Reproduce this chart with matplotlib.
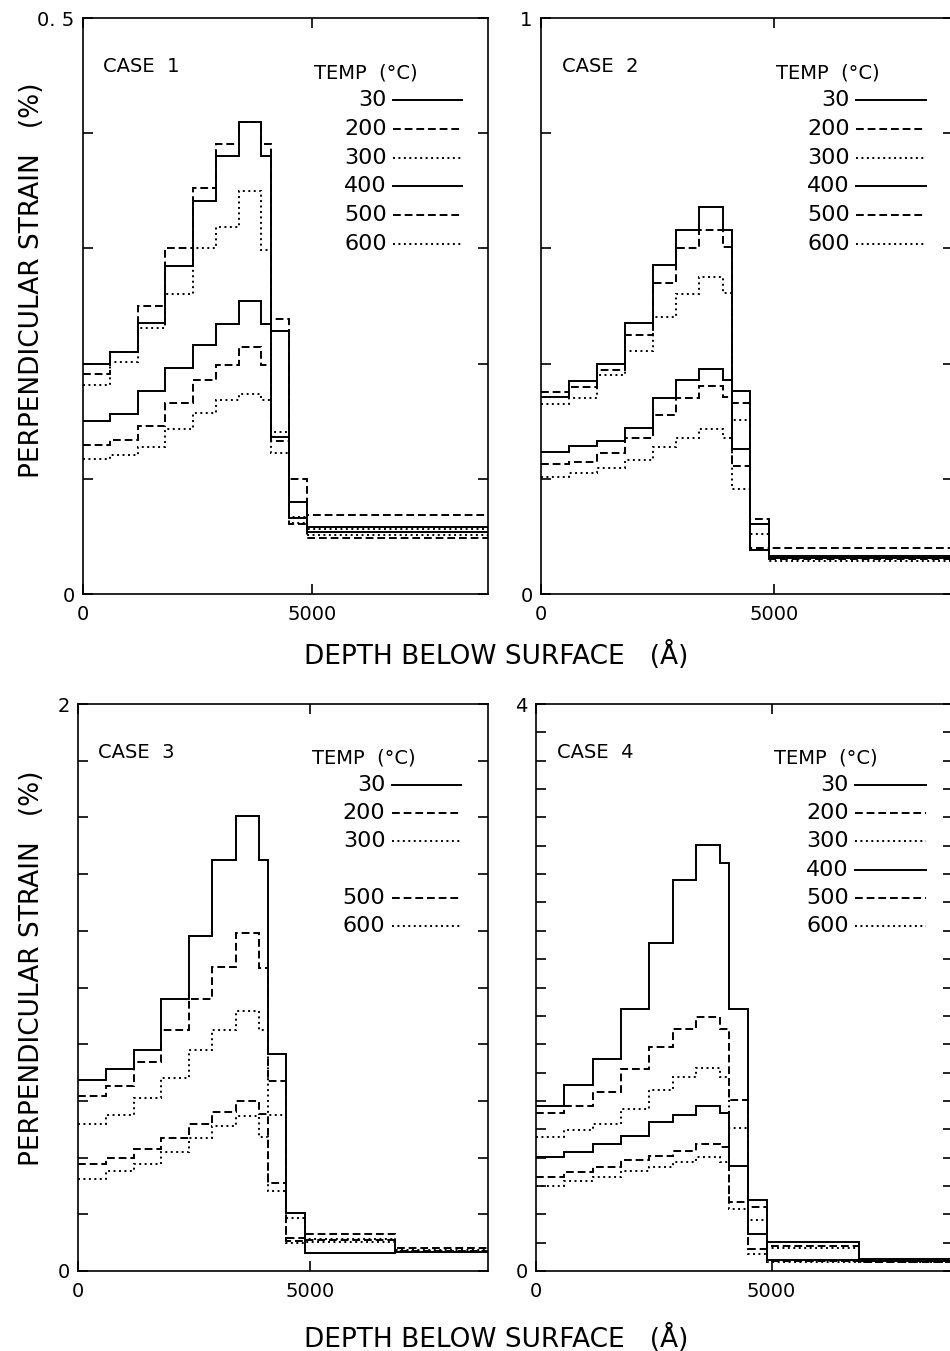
import matplotlib
matplotlib.use("Agg")
import matplotlib.pyplot as plt
from matplotlib.ticker import FixedLocator, FixedFormatter, MultipleLocator

plt.rcParams['font.family'] = ['DejaVu Sans']

# layer boundaries (angstrom) of the step profiles
edges = [0, 600, 1200, 1800, 2400, 2900, 3400, 3900, 4100, 4500, 4900, 6850, 8850]
temps = [30, 200, 300, 400, 500, 600]

# perpendicular strain (%) per layer
case1 = {
    30:  [0.200, 0.210, 0.235, 0.285, 0.341, 0.380, 0.410, 0.380, 0.228, 0.080, 0.058, 0.058],
    200: [0.191, 0.210, 0.250, 0.300, 0.352, 0.391, 0.410, 0.391, 0.239, 0.100, 0.069, 0.069],
    300: [0.181, 0.201, 0.231, 0.260, 0.300, 0.319, 0.350, 0.299, 0.141, 0.067, 0.056, 0.056],
    400: [0.150, 0.156, 0.176, 0.196, 0.216, 0.234, 0.254, 0.234, 0.136, 0.066, 0.054, 0.054],
    500: [0.129, 0.134, 0.146, 0.166, 0.186, 0.199, 0.214, 0.199, 0.133, 0.061, 0.049, 0.049],
    600: [0.117, 0.121, 0.128, 0.143, 0.157, 0.168, 0.174, 0.168, 0.122, 0.062, 0.051, 0.051],
}
case2 = {
    30:  [0.342, 0.370, 0.400, 0.470, 0.571, 0.632, 0.672, 0.632, 0.352, 0.122, 0.066, 0.066],
    200: [0.351, 0.359, 0.389, 0.450, 0.540, 0.600, 0.632, 0.602, 0.332, 0.131, 0.079, 0.079],
    300: [0.330, 0.340, 0.380, 0.422, 0.481, 0.520, 0.551, 0.523, 0.302, 0.105, 0.063, 0.063],
    400: [0.246, 0.257, 0.266, 0.289, 0.340, 0.371, 0.390, 0.371, 0.252, 0.077, 0.062, 0.062],
    500: [0.226, 0.230, 0.245, 0.270, 0.311, 0.340, 0.361, 0.342, 0.222, 0.080, 0.060, 0.060],
    600: [0.203, 0.210, 0.218, 0.232, 0.255, 0.271, 0.287, 0.271, 0.183, 0.076, 0.058, 0.058],
}
case3 = {
    30:  [0.672, 0.711, 0.779, 0.958, 1.182, 1.451, 1.605, 1.451, 0.764, 0.203, 0.062, 0.066],
    200: [0.619, 0.654, 0.737, 0.850, 0.960, 1.072, 1.192, 1.069, 0.669, 0.115, 0.132, 0.080],
    300: [0.518, 0.551, 0.611, 0.681, 0.779, 0.850, 0.918, 0.850, 0.549, 0.186, 0.112, 0.074],
    500: [0.379, 0.400, 0.430, 0.469, 0.518, 0.560, 0.598, 0.555, 0.310, 0.105, 0.108, 0.070],
    600: [0.326, 0.352, 0.377, 0.420, 0.468, 0.510, 0.548, 0.472, 0.281, 0.098, 0.104, 0.068],
}
case4 = {
    30:  [1.164, 1.314, 1.498, 1.850, 2.316, 2.761, 3.002, 2.881, 1.850, 0.504, 0.205, 0.085],
    200: [1.113, 1.164, 1.263, 1.422, 1.579, 1.705, 1.789, 1.705, 1.207, 0.451, 0.175, 0.080],
    300: [0.947, 0.992, 1.038, 1.143, 1.278, 1.368, 1.429, 1.368, 1.006, 0.362, 0.165, 0.075],
    400: [0.803, 0.842, 0.893, 0.953, 1.053, 1.098, 1.164, 1.113, 0.739, 0.263, 0.080, 0.070],
    500: [0.662, 0.698, 0.737, 0.782, 0.812, 0.848, 0.893, 0.878, 0.486, 0.158, 0.072, 0.065],
    600: [0.602, 0.632, 0.662, 0.707, 0.737, 0.767, 0.803, 0.767, 0.439, 0.123, 0.066, 0.060],
}

styles = {
    30: '-', 200: (0, (4, 2)), 300: (0, (1, 1.8)),
    400: '-', 500: (0, (4, 2)), 600: (0, (1, 1.8)),
}

W, H = 950, 1351
fig = plt.figure(figsize=(W / 100, H / 100), dpi=100)


def rect(l, r, t, b):
    return [l / W, 1 - b / H, (r - l) / W, (b - t) / H]


panels = [
    (rect(83, 488, 18, 594), case1, 0.5, 0.1, "0. 5", "CASE  1"),
    (rect(541, 953, 18, 594), case2, 1.0, 0.2, "1", "CASE  2"),
    (rect(78, 488, 704, 1271), case3, 2.0, 0.2, "2", "CASE  3"),
    (rect(536, 953, 704, 1271), case4, 4.0, 0.2, "4", "CASE  4"),
]

for pos, data, ymax, ystep, toplab, title in panels:
    ax = fig.add_axes(pos)
    for t, vals in data.items():
        ax.stairs(vals, edges, baseline=None, color='black',
                  linestyle=styles[t], linewidth=1.4)

    ax.set_xlim(0, edges[-1])
    ax.set_ylim(0, ymax)

    nt = int(round(ymax / ystep))
    yt = [i * ystep for i in range(nt + 1)]
    ax.yaxis.set_major_locator(FixedLocator(yt))
    ax.yaxis.set_major_formatter(FixedFormatter(["0"] + [""] * (nt - 1) + [toplab]))
    ax.xaxis.set_major_locator(FixedLocator([0, 5000]))
    ax.xaxis.set_major_formatter(FixedFormatter(["0", "5000"]))
    ax.tick_params(direction='in', length=7, width=1.2, top=True, right=True,
                   labelsize=14)
    ax.tick_params(axis='x', pad=8)
    ax.tick_params(axis='y', pad=6)
    for s in ax.spines.values():
        s.set_linewidth(1.2)

    ax.text(0.05, 0.915, title, transform=ax.transAxes, fontsize=14,
            ha='left', va='center')
    ax.text(0.57, 0.905, "TEMP  (°C)", transform=ax.transAxes, fontsize=14,
            ha='left', va='center')
    # hand-drawn key, 400 row left blank where the series is absent
    for i, t in enumerate(temps):
        y = 0.857 - i * 0.0497
        if t not in data:
            continue
        ax.text(0.75, y, str(t), transform=ax.transAxes, fontsize=16,
                ha='right', va='center')
        ax.plot([0.765, 0.935], [y, y], transform=ax.transAxes, color='black',
                linestyle=styles[t], linewidth=1.4)

for yc in (280, 968):
    fig.text(32 / W, 1 - yc / H, "PERPENDICULAR STRAIN   (%)", rotation=90,
             ha='center', va='center', fontsize=19)
for yc in (655, 1338):
    fig.text(496 / W, 1 - yc / H, "DEPTH BELOW SURFACE   (Å)",
             ha='center', va='center', fontsize=19)

fig.savefig("out.png", dpi=100)
